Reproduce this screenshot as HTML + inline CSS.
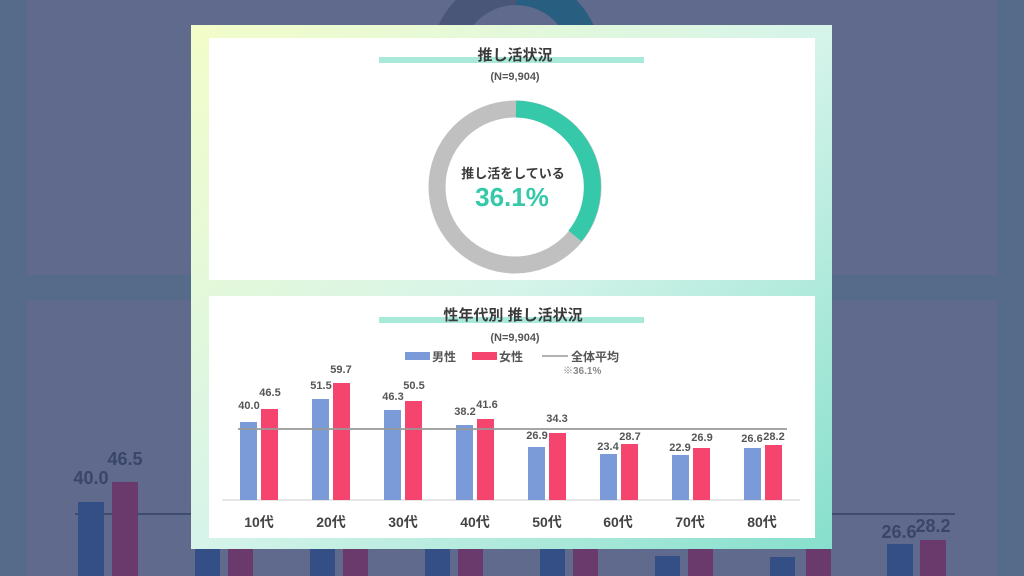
<!DOCTYPE html>
<html><head><meta charset="utf-8"><style>
body{margin:0;width:1024px;height:576px;overflow:hidden;background:#566b8a;font-family:"Liberation Sans","Noto Sans CJK JP",sans-serif;}
</style></head><body>
<svg width="1024" height="576" xmlns="http://www.w3.org/2000/svg" style="position:absolute;left:0;top:0">
<defs>
<linearGradient id="cg" x1="0" y1="0" x2="1" y2="1">
<stop offset="0" stop-color="#f3fdc9"/><stop offset="0.5" stop-color="#d6f4ea"/><stop offset="1" stop-color="#86dfcc"/>
</linearGradient>
</defs>
<rect x="0" y="0" width="1024" height="576" fill="#566b8a"/>
<rect x="27" y="0" width="970" height="275" fill="#5f6a8d"/>
<rect x="27" y="300" width="970" height="276" fill="#5f6a8d"/>
<circle cx="516" cy="60" r="70" fill="none" stroke="#4a5677" stroke-width="30"/>
<path d="M516 -10 A70 70 0 0 1 586 60" fill="none" stroke="#285f80" stroke-width="30"/>
<line x1="75" y1="514" x2="955" y2="514" stroke="#3f4c6c" stroke-width="2"/>
<g fill="#344f86">
<rect x="78" y="502" width="26" height="74"/><rect x="195" y="540" width="25" height="36"/><rect x="310" y="540" width="25" height="36"/><rect x="425" y="540" width="25" height="36"/><rect x="540" y="540" width="25" height="36"/><rect x="655" y="556" width="25" height="20"/><rect x="770" y="557" width="25" height="19"/><rect x="887" y="544" width="26" height="32"/>
</g>
<g fill="#6a3a6c">
<rect x="112" y="482" width="26" height="94"/><rect x="228" y="540" width="25" height="36"/><rect x="343" y="540" width="25" height="36"/><rect x="458" y="540" width="25" height="36"/><rect x="573" y="540" width="25" height="36"/><rect x="688" y="540" width="25" height="36"/><rect x="806" y="540" width="25" height="36"/><rect x="920" y="540" width="26" height="36"/>
</g>
<g fill="#3a4668" font-size="18" font-weight="bold" text-anchor="middle">
<text x="91" y="484">40.0</text><text x="125" y="465">46.5</text><text x="899" y="538">26.6</text><text x="933" y="532">28.2</text>
</g>
<rect x="191" y="25" width="641" height="524" fill="url(#cg)"/>
<rect x="209" y="38" width="606" height="242" fill="#fff"/>
<rect x="209" y="296" width="606" height="242" fill="#fff"/>
<rect x="379" y="57" width="265" height="6" fill="#a9e9d9"/>
<text x="515" y="60" font-size="15" font-weight="bold" fill="#3a3a3a" text-anchor="middle">推し活状況</text>
<text x="515" y="80" font-size="11" font-weight="bold" fill="#555" text-anchor="middle">(N=9,904)</text>
<circle cx="515" cy="187" r="78" fill="none" stroke="#c0c0c0" stroke-width="17"/>
<path d="M516 109 A78 78 0 0 1 575 236" fill="none" stroke="#35c9a9" stroke-width="17"/>
<text x="513" y="178" font-size="13" font-weight="bold" fill="#3a3a3a" text-anchor="middle">推し活をしている</text>
<text x="512" y="206" font-size="26" font-weight="bold" fill="#35c9a9" text-anchor="middle">36.1%</text>
<rect x="379" y="317" width="265" height="6" fill="#a9e9d9"/>
<text x="513" y="320" font-size="15" font-weight="bold" fill="#3a3a3a" text-anchor="middle">性年代別 推し活状況</text>
<text x="515" y="341" font-size="11" font-weight="bold" fill="#555" text-anchor="middle">(N=9,904)</text>
<rect x="405" y="352" width="25" height="8" fill="#7b9ad8"/>
<text x="432" y="361" font-size="12" font-weight="bold" fill="#555">男性</text>
<rect x="472" y="352" width="25" height="8" fill="#f5456f"/>
<text x="499" y="361" font-size="12" font-weight="bold" fill="#555">女性</text>
<line x1="542" y1="356" x2="568" y2="356" stroke="#999" stroke-width="1.5"/>
<text x="571" y="361" font-size="12" font-weight="bold" fill="#555">全体平均</text>
<text x="563" y="374" font-size="10" font-weight="bold" fill="#888">※36.1%</text>
<line x1="222" y1="500" x2="800" y2="500" stroke="#e6e6e6" stroke-width="2"/>
<g fill="#7b9ad8">
<rect x="240" y="422" width="17" height="78"/><rect x="312" y="399" width="17" height="101"/><rect x="384" y="410" width="17" height="90"/><rect x="456" y="425" width="17" height="75"/><rect x="528" y="447" width="17" height="53"/><rect x="600" y="454" width="17" height="46"/><rect x="672" y="455" width="17" height="45"/><rect x="744" y="448" width="17" height="52"/>
</g>
<g fill="#f5456f">
<rect x="261" y="409" width="17" height="91"/><rect x="333" y="383" width="17" height="117"/><rect x="405" y="401" width="17" height="99"/><rect x="477" y="419" width="17" height="81"/><rect x="549" y="433" width="17" height="67"/><rect x="621" y="444" width="17" height="56"/><rect x="693" y="448" width="17" height="52"/><rect x="765" y="445" width="17" height="55"/>
</g>
<line x1="238" y1="429" x2="787" y2="429" stroke="#999" stroke-width="1.8"/>
<g font-size="11" font-weight="bold" fill="#555" text-anchor="middle">
<text x="249" y="409">40.0</text><text x="270" y="396">46.5</text>
<text x="321" y="389">51.5</text><text x="341" y="373">59.7</text>
<text x="393" y="400">46.3</text><text x="414" y="389">50.5</text>
<text x="465" y="415">38.2</text><text x="487" y="408">41.6</text>
<text x="537" y="439">26.9</text><text x="557" y="422">34.3</text>
<text x="608" y="450">23.4</text><text x="630" y="440">28.7</text>
<text x="680" y="451">22.9</text><text x="702" y="441">26.9</text>
<text x="752" y="442">26.6</text><text x="774" y="440">28.2</text>
</g>
<g font-size="14" font-weight="bold" fill="#444" text-anchor="middle">
<text x="259" y="527">10代</text><text x="331" y="527">20代</text><text x="403" y="527">30代</text><text x="475" y="527">40代</text><text x="547" y="527">50代</text><text x="618" y="527">60代</text><text x="690" y="527">70代</text><text x="762" y="527">80代</text>
</g>
</svg>
</body></html>
